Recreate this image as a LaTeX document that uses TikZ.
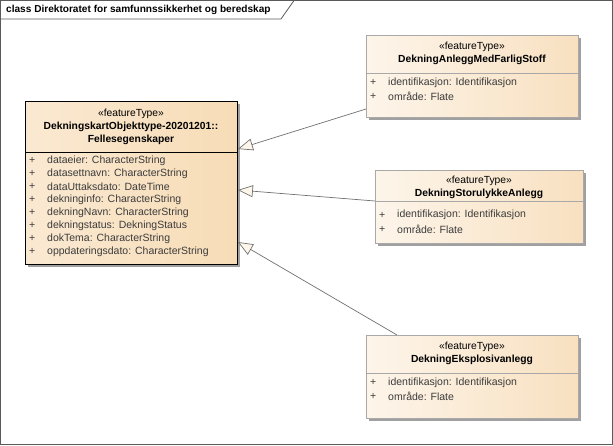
\documentclass[tikz,border=0pt]{standalone}
\usepackage{fontspec}
\setmainfont{Liberation Sans}
\usetikzlibrary{arrows.meta,calc}
\definecolor{frameC}{HTML}{5A5A5A}
\definecolor{boxL1}{HTML}{FAE9D2}
\definecolor{boxL2}{HTML}{F7DCB6}
\definecolor{boxR1}{HTML}{FDF5EA}
\definecolor{boxR2}{HTML}{F8E0C0}
\definecolor{grayB}{HTML}{A8A8A8}
\definecolor{shadowC}{HTML}{A0A0A0}
\definecolor{txtC}{HTML}{3C3C3C}
\definecolor{lineC}{HTML}{707070}
\definecolor{headC}{HTML}{FDF6EA}
\tikzset{
  shadowbox/.style={fill=shadowC, draw=none},
  mainbox/.style={draw=black, line width=0.9pt, left color=boxL1, right color=boxL2, inner sep=0pt, anchor=north west},
  sidebox/.style={draw=grayB, line width=0.7pt, left color=boxR1, right color=boxR2, inner sep=0pt, anchor=north west},
  stereo/.style={font=\fontsize{10.3}{12}\selectfont, text=black, inner sep=0pt},
  cname/.style={font=\fontsize{10.3}{12}\selectfont\bfseries, text=black, inner sep=0pt},
  attr/.style={font=\fontsize{10.5}{12}\selectfont, text=txtC, inner sep=0pt, anchor=west},
  gen/.style={draw=lineC, line width=0.7pt, -{Triangle[open, length=15pt, width=12pt, fill=headC]}},
}
\begin{document}
\begin{tikzpicture}[x=1pt,y=-1pt]
\useasboundingbox (0,0) rectangle (613,445);
% frame
\draw[frameC, line width=0.8pt] (0.5,0.5) rectangle (612.5,444.5);
\draw[frameC, line width=0.8pt] (0.5,19) -- (281,19) -- (294,0.5);
\node[anchor=west, inner sep=0pt, font=\fontsize{10.1}{11}\selectfont\bfseries, text=black] (title) at (6,10) {class Direktoratet for samfunnssikkerhet og beredskap};

% shadows
\fill[shadowbox] (28,104) rectangle (240,267);
\fill[shadowbox] (369,38) rectangle (581,120);
\fill[shadowbox] (378,173) rectangle (586,246);
\fill[shadowbox] (369,338) rectangle (581,421);

% boxes
\node[mainbox, minimum width=212pt, minimum height=163pt] (L) at (25,101) {};
\draw[black, line width=0.9pt] (25,152) -- (237,152);
\node[sidebox, minimum width=212pt, minimum height=82pt] (A) at (366,35) {};
\draw[grayB, line width=0.7pt] (366,73) -- (578,73);
\node[sidebox, minimum width=208pt, minimum height=73pt] (B) at (375,170) {};
\draw[grayB, line width=0.7pt] (375,201) -- (583,201);
\node[sidebox, minimum width=212pt, minimum height=83pt] (C) at (366,335) {};
\draw[grayB, line width=0.7pt] (366,373) -- (578,373);

% left class text
\node[stereo] (ls) at (131,114) {«featureType»};
\node[cname] (ln1) at (131,127) {DekningskartObjekttype-20201201::};
\node[cname] (ln2) at (131,140) {Fellesegenskaper};
\foreach \t [count=\i from 0] in {dataeier: CharacterString, datasettnavn: CharacterString, dataUttaksdato: DateTime, dekninginfo: CharacterString, dekningNavn: CharacterString, dekningstatus: DekningStatus, dokTema: CharacterString, oppdateringsdato: CharacterString}{
  \node[attr] (lp\i) at (29,{160.5+13*\i}) {+};
  \node[attr] (la\i) at (47,{160.5+13*\i}) {\t};
}

% box A
\node[stereo] (as) at (472,47) {«featureType»};
\node[cname] (an) at (472,60) {DekningAnleggMedFarligStoff};
\node[attr] (ap1) at (370,82.5) {+};
\node[attr] (aa1) at (388,82.5) {identifikasjon: Identifikasjon};
\node[attr] (ap2) at (370,96.5) {+};
\node[attr] (aa2) at (388,96.5) {område: Flate};

% box B
\node[stereo] (bs) at (479,181) {«featureType»};
\node[cname] (bn) at (479,194) {DekningStorulykkeAnlegg};
\node[attr] (bp1) at (379,215) {+};
\node[attr] (ba1) at (397,215) {identifikasjon: Identifikasjon};
\node[attr] (bp2) at (379,229) {+};
\node[attr] (ba2) at (397,229) {område: Flate};

% box C
\node[stereo] (cs) at (472,347) {«featureType»};
\node[cname] (cn) at (472,360) {DekningEksplosivanlegg};
\node[attr] (cp1) at (370,382.5) {+};
\node[attr] (ca1) at (388,382.5) {identifikasjon: Identifikasjon};
\node[attr] (cp2) at (370,396.5) {+};
\node[attr] (ca2) at (388,396.5) {område: Flate};

% generalizations
\draw[gen] ($(A.north west)+(0,74)$) -- ($(L.north east)+(0,48)$);
\draw[gen] ($(B.north west)+(0,31)$) -- ($(L.north east)+(0,89)$);
\draw[gen] ($(C.north west)+(31,0)$) -- ($(L.north east)+(0,141)$);
\end{tikzpicture}
\end{document}
